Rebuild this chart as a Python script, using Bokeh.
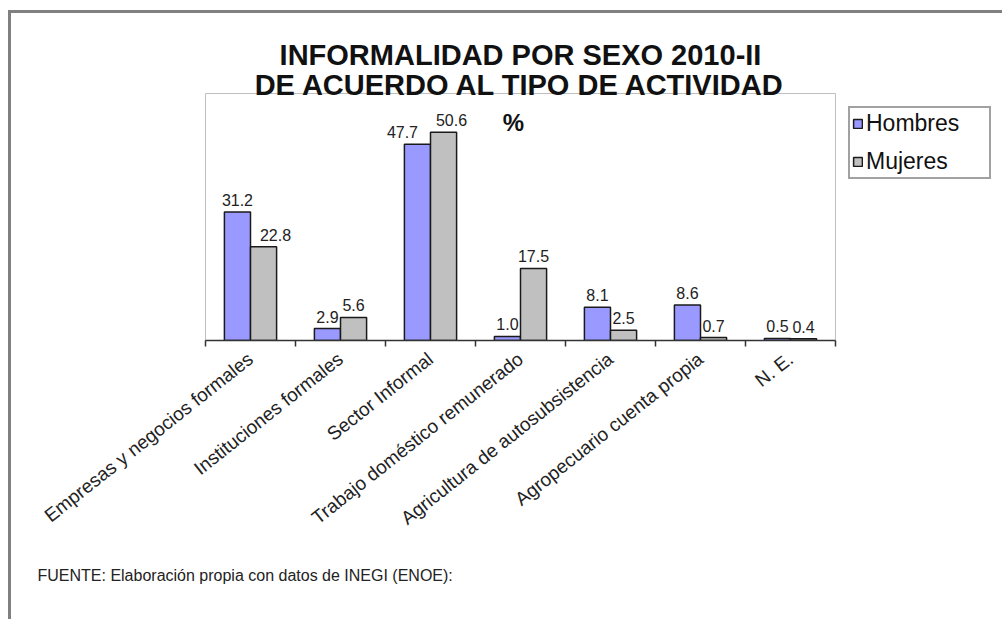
import numpy as np
from bokeh.plotting import figure
from bokeh.models import (ColumnDataSource, Range1d, FixedTicker, LabelSet, Label,
                          Legend, LegendItem, Title)
from bokeh.core.properties import value
from bokeh.embed import file_html
from bokeh.resources import INLINE

# ---------------- data ----------------
categories = ["Empresas y negocios formales", "Instituciones formales", "Sector Informal",
              "Trabajo doméstico remunerado", "Agricultura de autosubsistencia",
              "Agropecuario cuenta propia", "N. E."]
hombres = [31.2, 2.9, 47.7, 1.0, 8.1, 8.6, 0.5]
mujeres = [22.8, 5.6, 50.6, 17.5, 2.5, 0.7, 0.4]
series_names = ["Hombres", "Mujeres"]
title_lines = ["INFORMALIDAD POR SEXO 2010-II", "DE ACUERDO AL TIPO DE ACTIVIDAD"]
unit_label = "%"
source_note = "FUENTE: Elaboración propia con datos de INEGI (ENOE):"

# small horizontal nudges (px) of value labels, as placed in the original chart
nudge_h = [0, 0, -15, 0, 0, 0, 0]
nudge_m = [12, 0, 8, 0, 0, 0, 0]

FONT = "Liberation Sans"
n = len(categories)
centers = [i + 0.5 for i in range(n)]
bounds = [float(i) for i in range(n + 1)]
off = 0.145
bw = 0.29

p = figure(frame_width=630, frame_height=247, x_range=Range1d(0, n), y_range=Range1d(0, 60),
           output_backend="svg", toolbar_location=None,
           min_border_left=194, min_border_right=167, min_border_top=80, min_border_bottom=279)
p.styles = {"margin-left": "8px", "margin-top": "10px",
            "border-left": "3px solid #808080", "border-top": "3px solid #808080"}
p.background_fill_color = "white"
p.border_fill_color = "white"
p.outline_line_color = "#BFBFBF"
p.outline_line_width = 1
p.xgrid.visible = False
p.ygrid.visible = False
p.yaxis.visible = False

xa = p.xaxis[0]
xa.ticker = FixedTicker(ticks=centers, minor_ticks=bounds)
xa.major_label_overrides = {c: lab for c, lab in zip(centers, categories)}
xa.major_tick_out = 0
xa.major_tick_in = 0
xa.minor_tick_out = 6
xa.minor_tick_in = 0
xa.minor_tick_line_color = "#333333"
xa.minor_tick_line_width = 1.5
xa.axis_line_color = "#333333"
xa.axis_line_width = 1.5
xa.major_label_orientation = 0.67
xa.major_label_standoff = 10
xa.major_label_text_font = FONT
xa.major_label_text_font_size = "19px"
xa.major_label_text_color = "#222222"

src = ColumnDataSource(dict(
    x_h=[c - off for c in centers],
    x_m=[c + off for c in centers],
    hombres=hombres,
    mujeres=mujeres,
    lab_h=[f"{v:.1f}" for v in hombres],
    lab_m=[f"{v:.1f}" for v in mujeres],
    dx_h=nudge_h,
    dx_m=nudge_m,
))

rh = p.vbar(x="x_h", top="hombres", width=bw, source=src, fill_color="#9999FF",
            line_color="#1a1a1a", line_width=1.5)
rm = p.vbar(x="x_m", top="mujeres", width=bw, source=src, fill_color="#C0C0C0",
            line_color="#1a1a1a", line_width=1.5)

for xcol, ycol, tcol, dcol in [("x_h", "hombres", "lab_h", "dx_h"), ("x_m", "mujeres", "lab_m", "dx_m")]:
    p.add_layout(LabelSet(x=xcol, y=ycol, text=tcol, source=src, y_offset=6, x_offset=dcol,
                          text_align="center", text_baseline="bottom",
                          text_font=value(FONT), text_font_size="16px", text_color="#222222"))

legend = Legend(items=[LegendItem(label=series_names[0], renderers=[rh]),
                       LegendItem(label=series_names[1], renderers=[rm])],
                location="top_left", glyph_width=11, glyph_height=11,
                label_text_font=FONT, label_text_font_size="23px", label_text_color="#111111",
                label_height=22, label_width=121,
                border_line_color="#444444", border_line_width=2, padding=2, spacing=11,
                label_standoff=3, margin=13, background_fill_color="white", background_fill_alpha=1)
p.add_layout(legend, "right")

# titles (the one added later sits further from the plot)
p.add_layout(Title(text=title_lines[1], align="center", text_font=FONT, text_font_size="29px",
                   text_font_style="bold", text_color="#111111", standoff=-14), "above")
p.add_layout(Title(text=title_lines[0], align="center", text_font=FONT, text_font_size="29px",
                   text_font_style="bold", text_color="#111111", standoff=6), "above")

p.add_layout(Label(x=308, y=218, x_units="screen", y_units="screen", text=unit_label,
                   text_align="center", text_baseline="middle", text_font=FONT,
                   text_font_size="24px", text_font_style="bold", text_color="#111111"))

p.add_layout(Title(text=source_note, align="left", offset=-168, standoff=50, text_font=FONT,
                   text_font_size="16px", text_font_style="normal", text_color="#222222"), "below")

open("out.html", "w").write(file_html(p, INLINE))
